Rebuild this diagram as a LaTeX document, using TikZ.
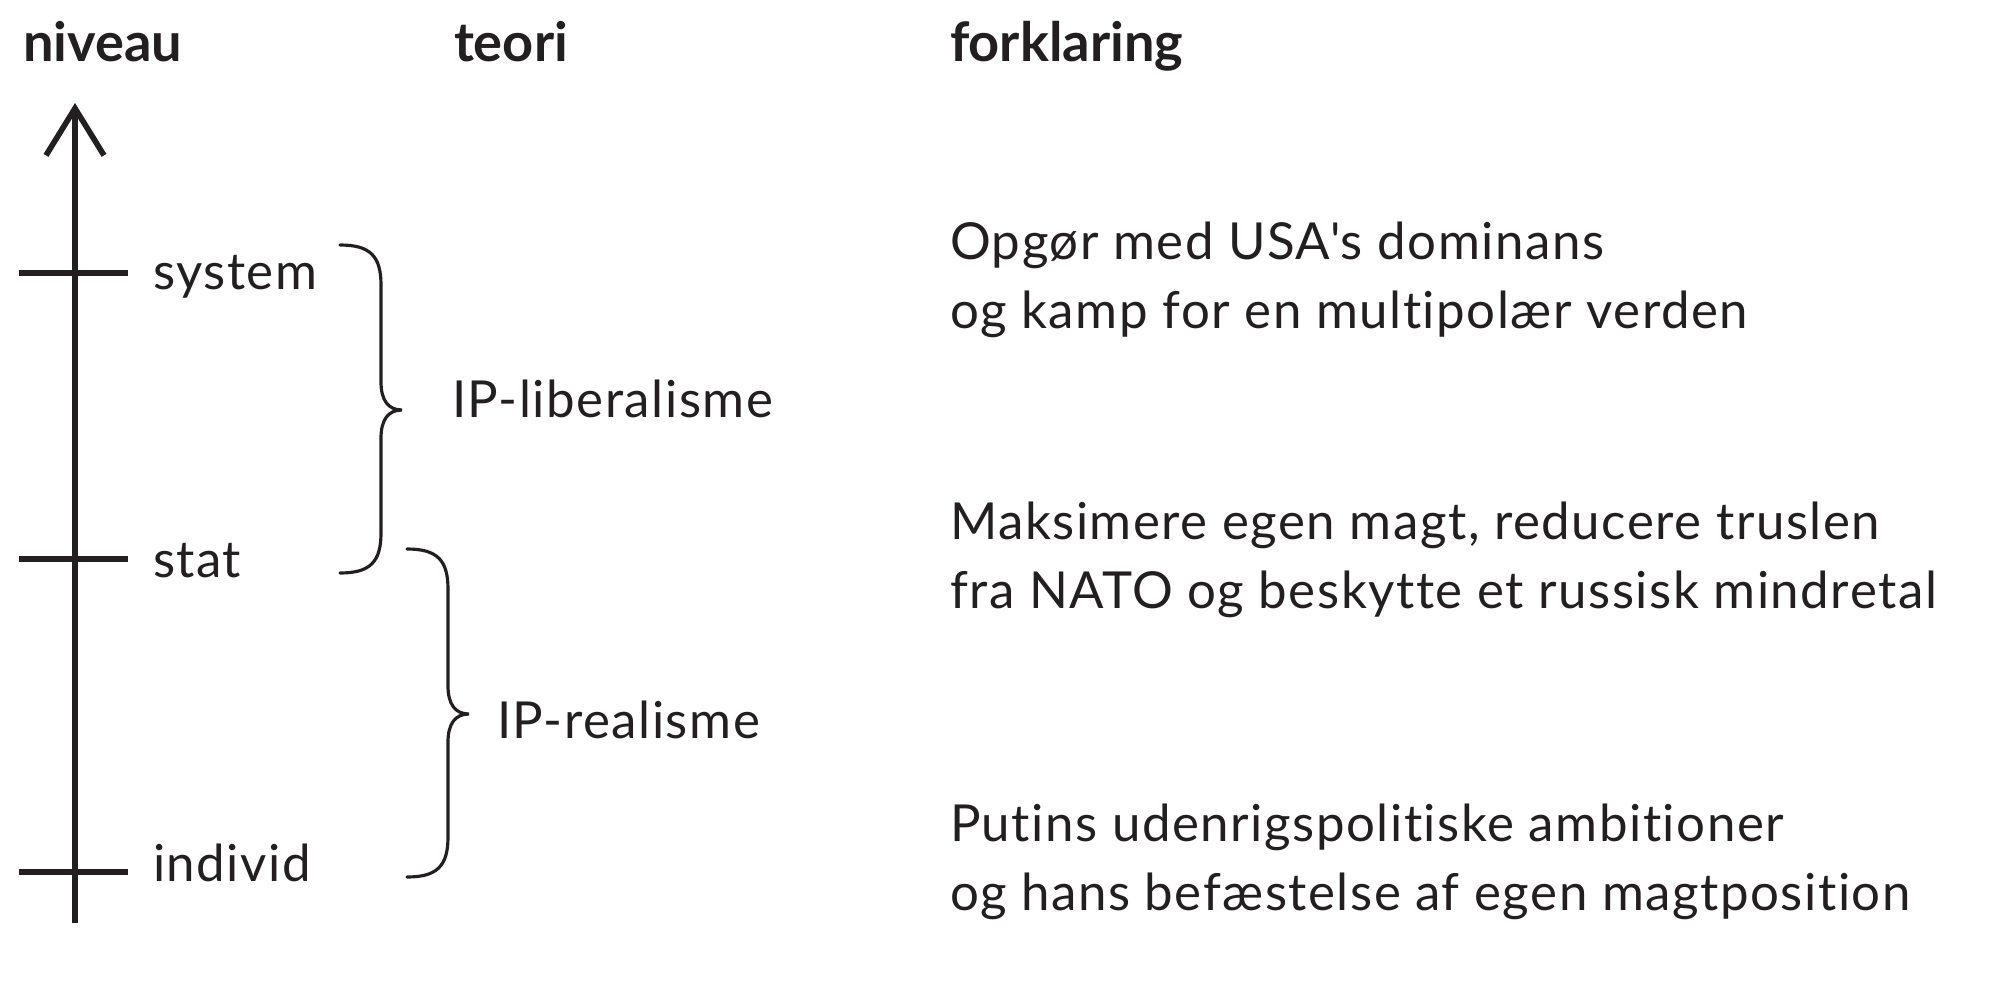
\documentclass[tikz,border=0pt]{standalone}
\usepackage{fontspec}
\setmainfont{Lato}[LetterSpace=3, Ligatures=NoCommon, BoldFeatures={LetterSpace=0}]
\usetikzlibrary{arrows.meta}
\definecolor{tryk}{RGB}{35,31,32}

\begin{document}
\begin{tikzpicture}[x=0.01cm, y=-0.01cm, color=tryk,
	font=\fontsize{14.5}{19.35}\selectfont,
	every node/.style={inner sep=0pt, outer sep=0pt, anchor=base west},
	head/.style={font=\fontsize{15.4}{18}\selectfont\bfseries},
	axis/.style={line width=1.6pt},
	curly/.style={line width=0.9pt, line cap=round},
	expl/.style={align=left}]

	\useasboundingbox (0,0) rectangle (2000,982);

	\node[head] 	(niveau) 	at (23,62) 	{niveau};
	\node[head] 	(teori) 	at (454,62) 	{teori};
	\node[head] 	(forklaring) 	at (950,62) 	{forklaring};

	\coordinate (bund) at (75,923);
	\coordinate (top) at (75,103);
	\draw[axis, -{Straight Barb[length=4.7mm, width=5.8mm]}] (bund) -- (top);

	\foreach \y/\b/\lvl in {273/289/system, 559/577/stat, 872/881/individ} {
		\draw[axis] (19,\y) -- (128,\y);
		\node (\lvl) at (153,\b) {\lvl};
	}

	\foreach \dx/\dy in {0/0, 67/304} {
		\begin{scope}[shift={(\dx,\dy)}]
		\draw[curly] (340,245) .. controls (370,245) and (381,256) .. (381,285)
			-- (381,382) .. controls (381,400) and (388,410) .. (402,410)
			.. controls (388,410) and (381,420) .. (381,438)
			-- (381,533) .. controls (381,562) and (370,573) .. (340,573);
		\end{scope}
	}

	\node 	(liberalisme) 	at (452,417) 	{IP-liberalisme};
	\node 	(realisme) 	at (497,738) 	{IP-realisme};

	\node[expl] 	(forkl1) 	at (950,328) 	{Opgør med USA\textquotesingle s dominans\\og kamp for en multipolær verden};
	\node[expl] 	(forkl2) 	at (950,608) 	{Maksimere egen magt, reducere truslen\\fra NATO og beskytte et russisk mindretal};
	\node[expl] 	(forkl3) 	at (950,910) 	{Putins udenrigspolitiske ambitioner\\og hans befæstelse af egen magtposition};

\end{tikzpicture}
\end{document}
